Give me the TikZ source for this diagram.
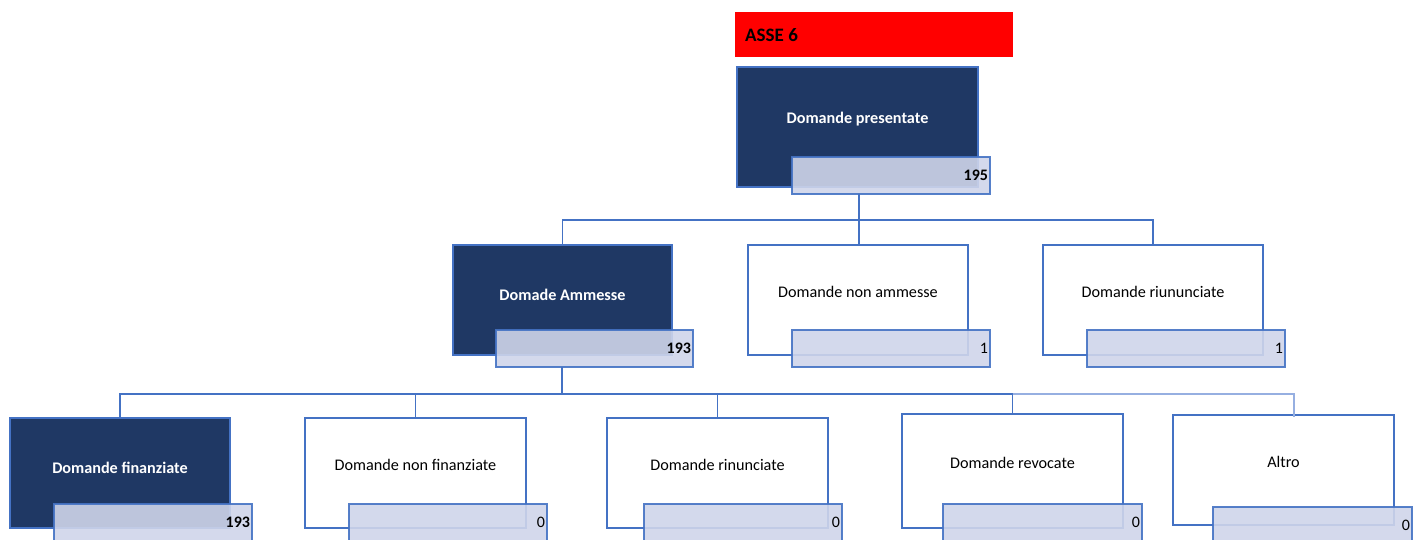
\documentclass[tikz,border=0pt]{standalone}
\usepackage{fontspec}
\setmainfont{Carlito}
\definecolor{navy}{RGB}{31,56,100}
\definecolor{edgeblue}{RGB}{68,114,196}
\definecolor{lightedge}{RGB}{150,175,225}
\definecolor{lblfill}{RGB}{207,213,234}
\definecolor{asse}{RGB}{255,0,0}
\tikzset{
  x=1pt,y=-1pt,
  boxbase/.style={draw=edgeblue,line width=1.2pt,inner sep=0pt,outer sep=0pt,anchor=north west},
  darkbox/.style={boxbase,fill=navy},
  whitebox/.style={boxbase,fill=white},
  lblbox/.style={draw=edgeblue,line width=1.2pt,fill=lblfill,fill opacity=0.9,draw opacity=0.9,text opacity=1,
     inner sep=0pt,outer sep=0pt,anchor=north west,align=right,font=\fontsize{16}{19}\selectfont},
  darktxt/.style={text=white,font=\bfseries\fontsize{16.2}{19}\selectfont,inner sep=0pt},
  plaintxt/.style={text=black,font=\fontsize{16.2}{19}\selectfont,inner sep=0pt},
  conn/.style={draw=edgeblue,line width=1.2pt},
  lightconn/.style={draw=lightedge,line width=1.2pt},
}
\newcommand{\numlbl}[5]{% name, x, y, width, text
  \node[lblbox,minimum width=#4,minimum height=37,text width=#4-4] (#1) at (#2,#3) {#5};}
\begin{document}
\begin{tikzpicture}
\useasboundingbox (0,0) rectangle (1419,540);
% header
\node[fill=asse,inner sep=0pt,anchor=north west,minimum width=278,minimum height=45] (asse) at (735,12) {};
\node[anchor=west,inner sep=0pt,font=\bfseries\fontsize{19}{22}\selectfont] (assetxt) at (745,35) {ASSE 6};
% junctions
\coordinate (j1) at (859,220);
\coordinate (j2) at (562,394);
% level 1
\node[darkbox,minimum width=241,minimum height=120] (pres) at (737,67) {};
\node[darktxt] (prest) at (857.5,119) {Domande presentate};
% level 2
\node[darkbox,minimum width=219,minimum height=110] (amm) at (453,245) {};
\node[darktxt] (ammt) at (562.5,295) {Domade Ammesse};
\node[whitebox,minimum width=220,minimum height=110] (nam) at (748,245) {};
\node[plaintxt] (namt) at (858,292) {Domande non ammesse};
\node[whitebox,minimum width=220,minimum height=110] (riu) at (1043,245) {};
\node[plaintxt] (riut) at (1153,292) {Domande riununciate};
% level 3
\node[darkbox,minimum width=220,minimum height=110] (fin) at (10,418) {};
\node[darktxt] (fint) at (120,468) {Domande finanziate};
\node[whitebox,minimum width=221,minimum height=110] (nfi) at (305,418) {};
\node[plaintxt] (nfit) at (415.5,465) {Domande non finanziate};
\node[whitebox,minimum width=221,minimum height=110] (rin) at (607,418) {};
\node[plaintxt] (rint) at (717.5,465) {Domande rinunciate};
\node[whitebox,minimum width=221,minimum height=114] (rev) at (902,414) {};
\node[plaintxt] (revt) at (1012.5,463) {Domande revocate};
\node[whitebox,minimum width=221,minimum height=110] (alt) at (1173,415) {};
\node[plaintxt] (altt) at (1283.5,462) {Altro};
% connectors
\draw[conn] (859,193) -- (j1);
\draw[conn] (amm.north) |- (j1) -| (riu.north);
\draw[conn] (j1) -- (j1 |- nam.north);
\draw[conn] (562,367) -- (j2);
\draw[conn] (fin.north) |- (j2) -| (rev.north);
\draw[conn] (nfi.north) -- (nfi.north |- j2);
\draw[conn] (rin.north) -- (rin.north |- j2);
\draw[lightconn] (rev.north |- j2) -| (1294,417);
% number labels
\numlbl{presn}{792}{157}{198}{\textbf{195}}
\numlbl{ammn}{496}{330}{197}{\textbf{193}}
\numlbl{namn}{792}{330}{198}{1}
\numlbl{riun}{1087}{330}{198}{1}
\numlbl{finn}{54}{504}{198}{\textbf{193}}
\numlbl{nfin}{349}{504}{198}{0}
\numlbl{rinn}{644}{504}{198}{0}
\numlbl{revn}{943}{504}{199}{0}
\numlbl{altn}{1213}{507}{199}{0}
\end{tikzpicture}
\end{document}
